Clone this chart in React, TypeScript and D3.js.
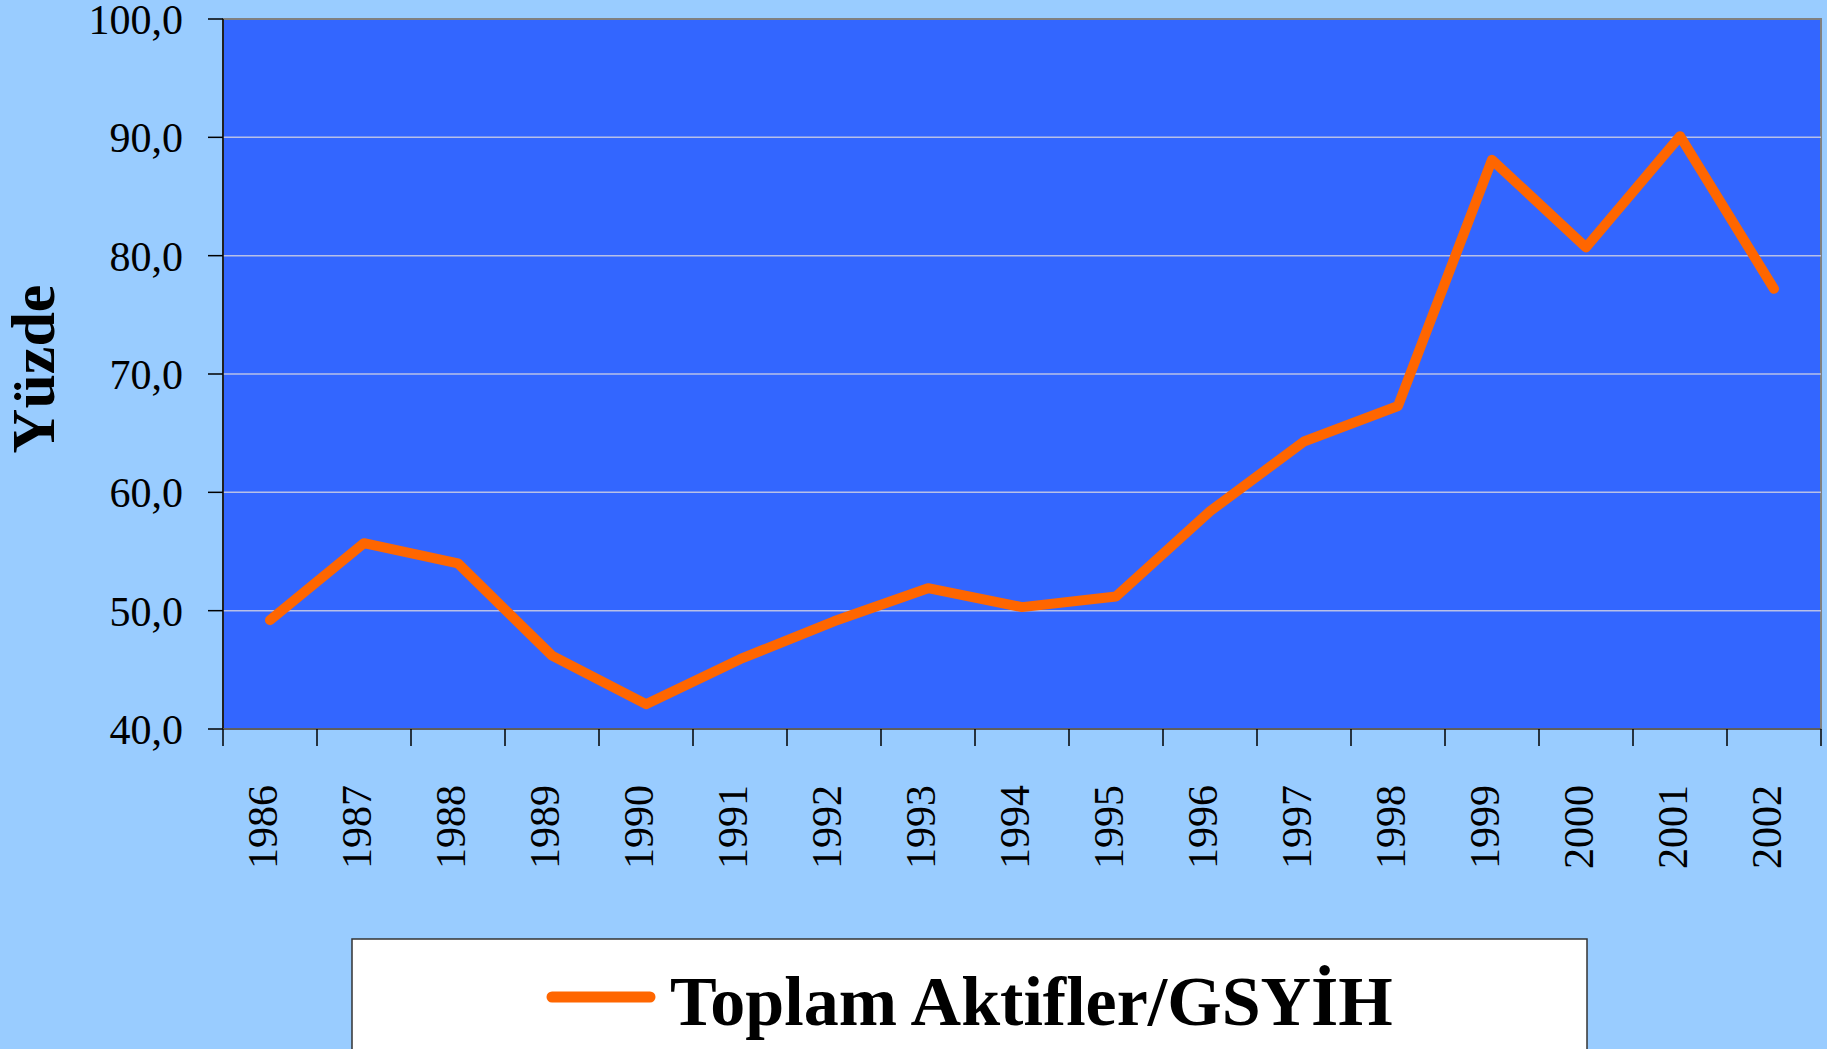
import React from "react";
import * as d3 from "d3";

const years = ["1986","1987","1988","1989","1990","1991","1992","1993","1994","1995","1996","1997","1998","1999","2000","2001","2002"];
const values = [49.2, 55.7, 54.0, 46.2, 42.1, 45.9, 49.1, 51.9, 50.3, 51.2, 58.4, 64.3, 67.3, 88.1, 80.7, 90.1, 77.2];
const yTicks = [40, 50, 60, 70, 80, 90, 100];
const seriesName = "Toplam Aktifler/GSYİH";
const yTitle = "Yüzde";

const W = 1827;
const H = 1049;
const plot = { left: 223, right: 1821, top: 19, bottom: 729 };
const FONT = "'Liberation Serif', 'DejaVu Serif', serif";

export default function App() {
  const x = d3.scaleBand<string>().domain(years).range([plot.left, plot.right]).padding(0);
  const y = d3.scaleLinear().domain([40, 100]).range([plot.bottom, plot.top]);
  const line = d3
    .line<number>()
    .x((_, i) => (x(years[i]) as number) + x.bandwidth() / 2)
    .y((d) => y(d));
  const boundaries = years.map((yr) => x(yr) as number).concat([plot.right]);
  const fmt = (v: number) => v.toFixed(1).replace(".", ",");

  return (
    <svg
      width={W}
      height={H}
      style={{ position: "absolute", left: 0, top: 0, display: "block" }}
      fontFamily={FONT}
    >
      <rect x={0} y={0} width={W} height={H} fill="#99CCFF" />
      <rect
        x={plot.left}
        y={plot.top}
        width={plot.right - plot.left}
        height={plot.bottom - plot.top}
        fill="#3366FF"
        stroke="#808080"
        strokeWidth={2}
      />
      {yTicks
        .filter((t) => t !== 40 && t !== 100)
        .map((t) => (
          <line
            key={"g" + t}
            x1={plot.left}
            x2={plot.right}
            y1={y(t)}
            y2={y(t)}
            stroke="#B8C0E8"
            strokeWidth={1.5}
          />
        ))}
      {/* y axis */}
      <line x1={plot.left} x2={plot.left} y1={plot.top} y2={plot.bottom} stroke="#000" strokeWidth={1.5} />
      {yTicks.map((t) => (
        <g key={"yt" + t}>
          <line x1={plot.left - 15} x2={plot.left} y1={y(t)} y2={y(t)} stroke="#000" strokeWidth={1.5} />
          <text x={183} y={y(t)} dy="0.36em" textAnchor="end" fontSize={42} fill="#000">
            {fmt(t)}
          </text>
        </g>
      ))}
      {/* x axis */}
      <line x1={plot.left} x2={plot.right} y1={plot.bottom} y2={plot.bottom} stroke="#555" strokeWidth={1.5} />
      {boundaries.map((bx, i) => (
        <line key={"xt" + i} x1={bx} x2={bx} y1={plot.bottom} y2={plot.bottom + 17} stroke="#000" strokeWidth={1.5} />
      ))}
      {years.map((yr) => {
        const cx = (x(yr) as number) + x.bandwidth() / 2;
        return (
          <text
            key={"xl" + yr}
            transform={`translate(${cx + 7},785) rotate(-90)`}
            textAnchor="end"
            fontSize={42}
            fill="#000"
          >
            {yr}
          </text>
        );
      })}
      {/* y title */}
      <text
        transform={`translate(54,369) rotate(-90)`}
        textAnchor="middle"
        fontSize={62}
        fontWeight="bold"
        fill="#000"
      >
        {yTitle}
      </text>
      {/* series */}
      <path
        d={line(values) || ""}
        fill="none"
        stroke="#FF6600"
        strokeWidth={10}
        strokeLinejoin="round"
        strokeLinecap="round"
      />
      {/* legend */}
      <rect x={352} y={939} width={1235} height={140} fill="#FFFFFF" stroke="#333" strokeWidth={1.5} />
      <line x1={552} x2={650} y1={997} y2={997} stroke="#FF6600" strokeWidth={11} strokeLinecap="round" />
      <text x={670} y={1025} fontSize={70} fontWeight="bold" fill="#000">
        {seriesName}
      </text>
    </svg>
  );
}
